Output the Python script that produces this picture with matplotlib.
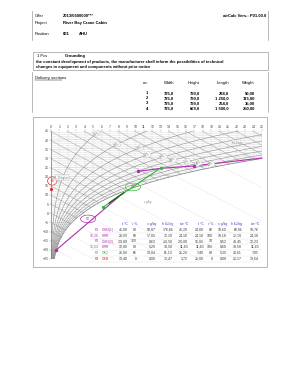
import matplotlib
matplotlib.use("Agg")
import matplotlib.pyplot as plt
import numpy as np
from matplotlib.patches import Rectangle, Ellipse, Polygon

plt.rcParams['font.family'] = ['Liberation Sans', 'DejaVu Sans']

W, H = 293, 380

# page header
offer_no = "2013/0600000***"
project = "River Bay Crane Cabin"
position_no = "001"
position_name = "AHU"
version = "airCalc Vers.: P01.00.0"
pcs = "1 Pcs"
grounding = "Grounding"
notice = ["the constant development of products, the manufacturer shall inform the possibilities of technical",
          "changes in equipment and components without prior notice"]

# delivery sections
sec_cols = ["no.", "Width", "Height", "Length", "Weight"]
sec_no = ["1", "2", "3", "4"]
sec_width = ["725,0", "725,0", "725,0", "725,0"]
sec_height = ["799,0", "799,0", "799,0", "669,0"]
sec_length = ["288,0", "1 250,0", "264,0", "1 500,0"]
sec_weight = ["50,00", "115,00", "35,00", "250,00"]

# h-x chart
x_ticks = np.arange(0, 26)
t_ticks = np.arange(45, -30, -5)
rh_levels = [10, 20, 30, 40, 50, 60, 70, 80, 90]
rh_label_x = [5.4, 7.8, 10.5, 11.4, 13.3, 14.5, 16.1, 17.5, 19.0]
h_levels = np.arange(-25, 130, 5)

# process lines (x g/kg, t °C)
purple_up_x = [10.3, 13.0, 16.9, 25.0]
purple_up_t = [22.5, 24.0, 25.1, 28.9]
purple_lo_x = [0.63, 8.0]
purple_lo_t = [-20.0, 8.8]
green_x = [6.2, 13.0]
green_t = [3.4, 24.2]

# state table
tab_head = ["t °C", "r %", "x g/kg", "h kJ/kg", "tw °C", "t °C", "r %", "x g/kg", "h kJ/kg", "tw °C"]
tab_id = ["P1", "15,26", "P2", "15,53", "P3", "P4"]
tab_name = ["OHN(1)", "HRR", "OHN(2)", "HRR", "OK2", "OEB"]
tab_rows = [
    ["45,00", "80", "50,87", "176,66", "41,29", "24,00", "60", "18,60", "60,96", "18,76"],
    ["28,00", "68", "17,09", "72,19", "24,18", "24,18", "100", "19,18", "72,19", "24,18"],
    ["-20,00", "100", "0,63", "-18,50", "-20,00", "15,00", "70", "8,52", "40,45", "12,23"],
    ["12,00", "80", "5,29", "33,58", "11,60", "11,60", "100", "8,60", "33,58", "11,60"],
    ["26,00", "66", "13,84", "61,13", "21,20", "7,40", "88", "5,30", "20,61", "7,05"],
    ["13,40", "0", "0,00", "13,47", "1,72", "20,00", "0", "0,00", "20,17", "13,64"],
]

PURPLE = "#b02cb0"
GREEN = "#2db82d"
RED = "#e02424"
BLUE = "#3b3bd0"
GRID = "#d8d8d8"
DARK = "#a0a0a0"

P = 101325.0


def psat(t):
    t = np.asarray(t, dtype=float)
    return np.where(t >= 0, 611.2 * np.exp(17.62 * t / (243.12 + t)),
                    611.2 * np.exp(22.46 * t / (272.62 + t)))


def xsat(t, phi=1.0):
    ps = phi * psat(t)
    return 622.0 * ps / (P - ps)


def yplot(t, x):
    t = np.asarray(t, dtype=float)
    x = np.asarray(x, dtype=float)
    return t * (1.006 + 0.00186 * x) / 1.006


fig = plt.figure(figsize=(W / 100, H / 100), dpi=100)
pax = fig.add_axes([0, 0, 1, 1])
pax.set_xlim(0, W)
pax.set_ylim(H, 0)
pax.axis('off')

fs = 3.0
lc = "#9a9a9a"

# header block
pax.plot([32, 32], [11, 40], color=lc, lw=0.5)
pax.plot([268, 268], [11, 40], color=lc, lw=0.5)
pax.text(35, 16, "Offer", fontsize=fs, va='center')
pax.text(63, 16, offer_no, fontsize=fs, va='center', weight='bold')
pax.text(266, 16, version, fontsize=fs, va='center', ha='right', weight='bold')
pax.text(35, 23, "Project", fontsize=fs, va='center')
pax.text(63, 23, project, fontsize=fs, va='center', weight='bold')
pax.text(35, 34, "Position", fontsize=fs, va='center')
pax.text(63, 34, position_no, fontsize=fs, va='center', weight='bold')
pax.text(79, 34, position_name, fontsize=fs, va='center', weight='bold')

# notice box
pax.add_patch(Rectangle((33, 52), 235, 18, fill=False, ec=lc, lw=0.5))
pax.text(37, 56, pcs, fontsize=fs, va='center')
pax.text(65, 56, grounding, fontsize=fs, va='center', weight='bold')
pax.text(36, 62, notice[0], fontsize=2.9, va='center', weight='bold')
pax.text(36, 67, notice[1], fontsize=2.9, va='center', weight='bold')

# delivery sections
pax.plot([32, 32], [72, 112], color=lc, lw=0.5)
pax.plot([268, 268], [72, 112], color=lc, lw=0.5)
pax.text(35, 78, "Delivery sections", fontsize=fs, va='center')
pax.plot([35, 62], [80.3, 80.3], color='k', lw=0.3)
col_r = [148, 174, 200, 229, 255]
for c, r in zip(sec_cols, col_r):
    pax.text(r, 83, c, fontsize=fs, va='center', ha='right')
for i in range(4):
    yy = 93 + i * 5.2
    for r, v in zip(col_r, [sec_no[i], sec_width[i], sec_height[i], sec_length[i], sec_weight[i]]):
        pax.text(r, yy, v, fontsize=fs, va='center', ha='right', weight='bold')

# chart frame
pax.add_patch(Rectangle((33, 117), 234, 150, fill=False, ec=lc, lw=0.5))

# chart axes in pixel placement
L, R, T, B = 51, 262, 131, 259
ax = fig.add_axes([L / W, 1 - B / H, (R - L) / W, (B - T) / H])
ax.set_xlim(0, 25)
ax.set_ylim(-25, 45)
ax.patch.set_visible(False)
for s in ax.spines.values():
    s.set_visible(False)
ax.xaxis.tick_top()
ax.set_xticks(x_ticks)
ax.set_yticks(t_ticks)
ax.tick_params(labelsize=2.5, length=1.2, width=0.3, color=DARK, pad=0.6, labelcolor='#444444')

# unsaturated region clip
ts = np.linspace(-25, 28.7, 200)
xs = xsat(ts)
ys = yplot(ts, xs)
region = np.vstack([[[0, -25]], np.column_stack([xs, ys]), [[25, 45], [0, 45]]])
clip = Polygon(region, closed=True, transform=ax.transData, fc='none', ec='none')
ax.add_patch(clip)

arts = []
for t in np.arange(-25, 46, 1):
    xx = np.linspace(0, 25, 50)
    arts += ax.plot(xx, yplot(t, xx), color=GRID if t % 5 else "#bdbdbd", lw=0.3)
for xv in x_ticks:
    arts += ax.plot([xv, xv], [-25, 48], color=GRID, lw=0.3)
for h in h_levels:
    xx = np.linspace(0, 25, 50)
    arts += ax.plot(xx, (h - 2.501 * xx) / 1.006, color=DARK, lw=0.35)
for phi in rh_levels:
    tt = np.linspace(-25, 45, 300)
    xx = xsat(tt, phi / 100)
    arts += ax.plot(xx, yplot(tt, xx), color="#858585", lw=0.35)
for a in arts:
    a.set_clip_path(clip)

# saturation line and left edge
ax.plot(xs, ys, color="#7a7a7a", lw=0.5)
ax.plot([0, 0], [-25, 45], color="#7a7a7a", lw=0.5)

# fog isotherms
for t in np.arange(-20, 30, 5):
    x0 = float(xsat(t))
    xx = np.linspace(x0, 25, 30)
    hs = 1.006 * t + x0 * (2501 + 1.86 * t) / 1000
    hh = hs + 4.19 * t * (xx - x0) / 1000
    ax.plot(xx, (hh - 2.501 * xx) / 1.006, color="#e4e4e4", lw=0.3)

# rh labels
for phi, xl in zip(rh_levels, rh_label_x):
    tt = np.linspace(-25, 45, 2000)
    xx = xsat(tt, phi / 100)
    k = np.argmin(np.abs(xx - xl))
    if yplot(tt[k], xx[k]) < 44:
        ax.text(xx[k], yplot(tt[k], xx[k]), f"{phi}%", fontsize=2.0, color="#666666", ha='center', va='center',
                rotation=25, bbox=dict(boxstyle='square,pad=0.15', fc='white', ec='#bbbbbb', lw=0.3))

ax.text(0.5, 19.5, "1,15 kg/m³", fontsize=2.0, color="#666666", va='center',
        bbox=dict(boxstyle='square,pad=0.15', fc='white', ec='#bbbbbb', lw=0.3))
ax.text(22.0, 38.6, "h kJ/kg", fontsize=2.0, color="#666666", va='center', ha='center',
        bbox=dict(boxstyle='square,pad=0.15', fc='white', ec='#bbbbbb', lw=0.3))
ax.text(11.0, 6.0, "x g/kg", fontsize=2.0, color="#888888", va='center')

# process lines
ax.plot(purple_up_x, yplot(purple_up_t, purple_up_x), color=PURPLE, lw=0.8, clip_on=False)
ax.plot([purple_up_x[0], purple_up_x[2]], yplot([purple_up_t[0], purple_up_t[2]], [purple_up_x[0], purple_up_x[2]]),
        'o', color=PURPLE, ms=1.5, lw=0)
ax.plot(purple_lo_x, yplot(purple_lo_t, purple_lo_x), color=PURPLE, lw=0.8, marker='o', ms=1.5, markevery=[0])
ax.plot(green_x, yplot(green_t, green_x), color=GREEN, lw=0.8, marker='o', ms=1.3)
ax.plot([6.9, 8.6], yplot([5.6, 11.0], [6.9, 8.6]), color="#1e5e1e", lw=1.0)

# point labels
ax.add_patch(Ellipse((4.4, -3.1), 1.8, 4.2, fill=False, ec=PURPLE, lw=0.5))
ax.text(4.4, -3.1, "P2", fontsize=2.3, color=PURPLE, ha='center', va='center')
ax.add_patch(Ellipse((9.7, 14.4), 1.8, 4.2, fill=False, ec=GREEN, lw=0.5))
ax.text(9.7, 14.4, "P3", fontsize=2.3, color=GREEN, ha='center', va='center')
ax.add_patch(Ellipse((0.15, 17.7), 1.1, 4.6, fill=False, ec=RED, lw=0.5, clip_on=False))
ax.text(0.15, 17.7, "P4", fontsize=2.1, color=RED, ha='center', va='center')
ax.plot([0], [13.4], 'o', color=RED, ms=1.3, clip_on=False)

# state table
tab_r = [128, 137, 156, 173, 188, 204, 213, 227, 242, 259]
row_y = [230, 236, 241.5, 247, 253, 259]
row_col = [PURPLE, PURPLE, PURPLE, PURPLE, GREEN, RED]
tfs = 2.5
for r, hd in zip(tab_r, tab_head):
    pax.text(r, 224, hd, fontsize=tfs, color=BLUE, ha='right', va='center')
for i, yy in enumerate(row_y):
    pax.text(99, yy, tab_id[i], fontsize=tfs, color=row_col[i], ha='right', va='center')
    pax.text(102, yy, tab_name[i], fontsize=tfs, color=row_col[i], ha='left', va='center')
    for r, v in zip(tab_r, tab_rows[i]):
        pax.text(r, yy, v, fontsize=tfs, color='#333333', ha='right', va='center')
    pax.plot([90, 261], [yy + 2.8, yy + 2.8], color='#e0e0e0', lw=0.3)

fig.savefig("out.png", dpi=100)
